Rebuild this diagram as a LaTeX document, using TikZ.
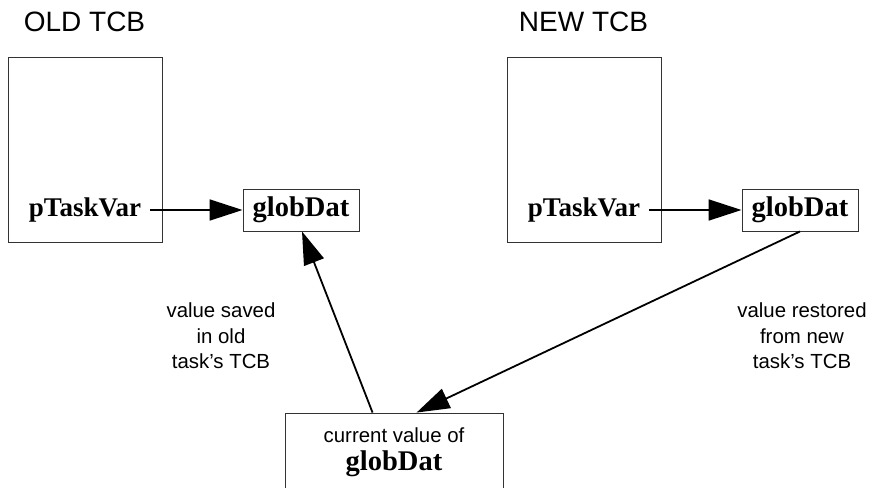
\documentclass[tikz,border=0pt]{standalone}
\usepackage{fontspec}
\setmainfont{Liberation Serif}
\setsansfont{Liberation Sans}
\usetikzlibrary{arrows.meta}
\tikzset{
  box/.style={draw=black!80, line width=0.9pt, inner sep=0pt},
  code/.style={font=\fontsize{27}{30}\selectfont\bfseries\rmfamily, inner sep=0pt},
  gcode/.style={font=\fontsize{28.5}{30}\selectfont\bfseries\rmfamily},
  lbl/.style={font=\fontsize{20.4}{25.5}\selectfont\sffamily, align=center, inner sep=0pt},
  title/.style={font=\fontsize{28}{30}\selectfont\sffamily, inner sep=0pt},
  conn/.style={line width=1.8pt, -{Triangle[length=33pt,width=21pt]}}
}
\begin{document}
\begin{tikzpicture}[x=1pt,y=-1pt]
\useasboundingbox (0,0) rectangle (874,487);
\clip (0,0) rectangle (874,487);
\node[title] (t1) at (84.5,22) {OLD TCB};
\node[title] (t2) at (583.5,22) {NEW TCB};
\node[box, minimum width=154pt, minimum height=185pt] (oldtcb) at (85,149.5) {};
\node[box, minimum width=154pt, minimum height=185pt] (newtcb) at (584,149.5) {};
\node[code] (pL) at (85,210) {pTaskVar};
\node[code] (pR) at (584,210) {pTaskVar};
\node[box, gcode, minimum width=116pt, minimum height=42pt] (gL) at (301,210) {globDat};
\node[box, gcode, minimum width=116pt, minimum height=42pt] (gR) at (800,210) {globDat};
\node[box, minimum width=218pt, minimum height=100pt] (cur) at (394,463) {};
\node[lbl] (c1) at (394,435) {current value of};
\node[gcode, inner sep=0pt] (c2) at (394,464) {globDat};
\node[lbl] (l1) at (221,336) {value saved\\in old\\task's TCB};
\node[lbl] (l2) at (802,336) {value restored\\from new\\task's TCB};
\draw[conn] ([xshift=9pt]pL.east) -- (gL.west);
\draw[conn] ([xshift=9pt]pR.east) -- (gR.west);
\draw[conn] ([xshift=88pt]cur.north west) -- ([xshift=1pt]gL.south);
\draw[conn] (gR.south) -- ([xshift=132pt]cur.north west);
\end{tikzpicture}
\end{document}
